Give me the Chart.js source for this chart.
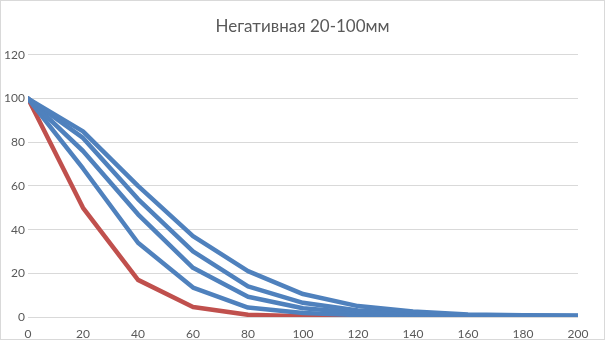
<!DOCTYPE html>
<html><head><meta charset="utf-8">
<script src="https://cdn.jsdelivr.net/npm/chart.js@4/dist/chart.umd.min.js"></script>
<style>html,body{margin:0;padding:0;background:#fff}#wrap{width:605px;height:340px;position:relative}</style>
</head><body><div id="wrap"><canvas id="c" width="605" height="340"></canvas></div>
<script>
const titleText = "Негативная 20-100мм";
const xValues = [0,20,40,60,80,100,120,140,160,180,200];
const xTicks = [0,20,40,60,80,100,120,140,160,180,200];
const yTicks = [0,20,40,60,80,100,120];
const redSeries = [100,50,17,4.6,1,0.3,0];
const blue1 = [100,85,60,37,21,10.5,5,2.5,1.2,0.8,0.7];
const blue2 = [100,82,54,30,14,6.5,3,1.5,0.8,0.6,0.5];
const blue3 = [100,76,47,22.5,9.3,4,2,1,0.6,0.5,0.4];
const blue4 = [100,68,34,13.5,4.3,1.8,0.9,0.6,0.4,0.3,0.3];

const BLUE = 'rgb(79,129,189)';
const RED = 'rgb(192,80,77)';
function pts(arr){ return arr.map((v,i)=>({x:xValues[i], y:v})); }
function ds(arr,color,order){ return {data:pts(arr),borderColor:color,backgroundColor:color,borderWidth:4.5,pointRadius:0,tension:0,fill:false,order:order,borderJoinStyle:'round',borderCapStyle:'round',yAxisID:'y'}; }

const borderPlugin = {id:'border',afterDraw(chart){const c=chart.ctx;c.save();c.strokeStyle='#d9d9d9';c.lineWidth=1;c.strokeRect(0.5,0.5,chart.width-1,chart.height-1);c.restore();}};

new Chart(document.getElementById('c'),{
  type:'line',
  data:{datasets:[ds(blue1,BLUE,1),ds(blue2,BLUE,2),ds(blue3,BLUE,3),ds(blue4,BLUE,4),ds(redSeries,RED,5)]},
  options:{
    responsive:false,animation:false,devicePixelRatio:1,
    layout:{padding:0},
    plugins:{legend:{display:false},tooltip:{enabled:false},
      title:{display:true,text:titleText,color:'#595959',font:{family:'Lato',size:17,weight:'normal'},padding:{top:16.5,bottom:18}}},
    scales:{
      x:{type:'linear',min:0,max:200,
        afterBuildTicks(s){s.ticks=xTicks.map(v=>({value:v}));},
        afterFit(s){s.height=23;},
        grid:{display:false},border:{display:false},
        ticks:{color:'#595959',font:{family:'Lato',size:12},padding:2,maxRotation:0}},
      y:{min:0,max:120,
        afterBuildTicks(s){s.ticks=yTicks.map(v=>({value:v}));},
        afterFit(s){s.width=28;},
        grid:{color:'#d9d9d9',lineWidth:1,drawTicks:false},border:{display:false},
        ticks:{color:'#595959',font:{family:'Lato',size:12},padding:3}},
      yR:{position:'right',min:0,max:120,
        afterFit(s){s.width=27;},
        grid:{display:false,drawOnChartArea:false},border:{display:false},
        ticks:{display:false}}
    }
  },
  plugins:[borderPlugin]
});
</script></body></html>
